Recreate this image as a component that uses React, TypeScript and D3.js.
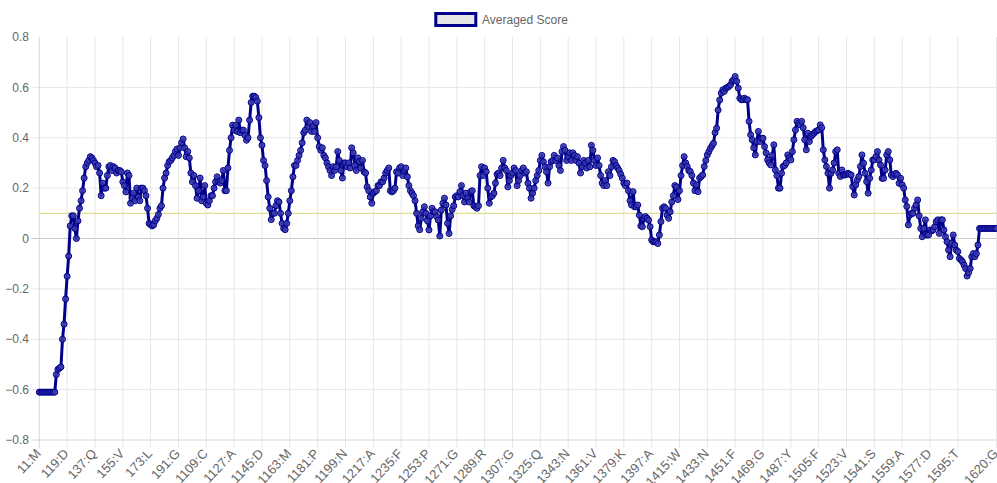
import React from 'react';
import * as d3 from 'd3';

// x tick labels shown on the axis (chain + residue : amino acid)
const tickLabels = [
  '11:M', '119:D', '137:Q', '155:V', '173:L', '191:G', '1109:C', '1127:A', '1145:D',
  '1163:M', '1181:P', '1199:N', '1217:A', '1235:F', '1253:P', '1271:G', '1289:R', '1307:G',
  '1325:Q', '1343:N', '1361:V', '1379:K', '1397:A', '1415:W', '1433:N', '1451:F', '1469:G',
  '1487:Y', '1505:F', '1523:V', '1541:S', '1559:A', '1577:D', '1595:T', '1620:G',
];

// averaged score per residue (1..620), 18 residues per row
const scores = [
  -0.61, -0.61, -0.61, -0.61, -0.61, -0.61, -0.61, -0.61, -0.61, -0.61, -0.61, -0.54, -0.52, -0.515, -0.51, -0.40, -0.34, -0.24,
  -0.15, -0.07, 0.05, 0.09, 0.09, 0.04, 0.0, 0.07, 0.12, 0.15, 0.19, 0.24, 0.285, 0.30, 0.31, 0.325, 0.32, 0.31,
  0.30, 0.285, 0.29, 0.26, 0.17, 0.22, 0.20, 0.20, 0.25, 0.285, 0.29, 0.27, 0.285, 0.28, 0.26, 0.27, 0.27, 0.265,
  0.225, 0.21, 0.185, 0.26, 0.25, 0.14, 0.16, 0.18, 0.15, 0.20, 0.165, 0.15, 0.20, 0.20, 0.19, 0.17, 0.12, 0.06,
  0.055, 0.05, 0.055, 0.07, 0.08, 0.095, 0.12, 0.13, 0.2, 0.24, 0.26, 0.29, 0.305, 0.31, 0.32, 0.33, 0.345, 0.355,
  0.33, 0.36, 0.38, 0.395, 0.36, 0.325, 0.345, 0.32, 0.26, 0.225, 0.25, 0.21, 0.16, 0.19, 0.24, 0.15, 0.165, 0.21,
  0.14, 0.133, 0.15, 0.17, 0.17, 0.20, 0.225, 0.245, 0.225, 0.22, 0.23, 0.27, 0.19, 0.19, 0.28, 0.35, 0.40, 0.45,
  0.43, 0.45, 0.425, 0.47, 0.42, 0.43, 0.43, 0.41, 0.39, 0.40, 0.47, 0.54, 0.565, 0.565, 0.56, 0.545, 0.48, 0.40,
  0.37, 0.31, 0.29, 0.23, 0.165, 0.12, 0.075, 0.10, 0.10, 0.13, 0.15, 0.145, 0.10, 0.06, 0.04, 0.035, 0.06, 0.10,
  0.15, 0.19, 0.245, 0.29, 0.29, 0.31, 0.33, 0.35, 0.38, 0.42, 0.43, 0.47, 0.445, 0.46, 0.425, 0.445, 0.425, 0.46,
  0.40, 0.365, 0.35, 0.36, 0.33, 0.32, 0.30, 0.285, 0.27, 0.25, 0.285, 0.27, 0.285, 0.345, 0.31, 0.27, 0.24, 0.30,
  0.30, 0.285, 0.30, 0.28, 0.36, 0.34, 0.29, 0.27, 0.32, 0.305, 0.28, 0.31, 0.265, 0.26, 0.205, 0.19, 0.165, 0.14,
  0.18, 0.186, 0.19, 0.21, 0.21, 0.225, 0.225, 0.24, 0.26, 0.27, 0.28, 0.19, 0.185, 0.19, 0.20, 0.265, 0.26, 0.28,
  0.285, 0.25, 0.27, 0.28, 0.245, 0.21, 0.19, 0.18, 0.17, 0.15, 0.10, 0.05, 0.035, 0.08, 0.106, 0.126, 0.10, 0.07,
  0.034, 0.09, 0.12, 0.106, 0.106, 0.087, 0.073, 0.01, 0.113, 0.14, 0.16, 0.133, 0.06, 0.02, 0.09, 0.115, 0.13, 0.165,
  0.17, 0.165, 0.186, 0.21, 0.17, 0.145, 0.18, 0.16, 0.145, 0.186, 0.19, 0.13, 0.126, 0.12, 0.13, 0.25, 0.285, 0.25,
  0.28, 0.265, 0.2, 0.14, 0.165, 0.17, 0.18, 0.22, 0.255, 0.26, 0.25, 0.28, 0.31, 0.28, 0.27, 0.205, 0.23, 0.25,
  0.26, 0.28, 0.27, 0.21, 0.23, 0.25, 0.27, 0.28, 0.26, 0.265, 0.22, 0.2, 0.16, 0.18, 0.2, 0.23, 0.25, 0.27,
  0.31, 0.33, 0.305, 0.285, 0.265, 0.22, 0.285, 0.305, 0.31, 0.33, 0.31, 0.32, 0.29, 0.27, 0.345, 0.365, 0.35, 0.31,
  0.325, 0.34, 0.31, 0.34, 0.33, 0.31, 0.325, 0.30, 0.26, 0.285, 0.31, 0.30, 0.28, 0.31, 0.285, 0.37, 0.35, 0.31,
  0.29, 0.32, 0.29, 0.25, 0.22, 0.21, 0.23, 0.21, 0.265, 0.25, 0.285, 0.31, 0.305, 0.29, 0.28, 0.27, 0.255, 0.24,
  0.22, 0.21, 0.22, 0.19, 0.15, 0.133, 0.186, 0.126, 0.126, 0.133, 0.093, 0.05, 0.047, 0.08, 0.087, 0.08, 0.073, 0.047,
  -0.006, -0.013, -0.013, -0.013, -0.02, 0.014, 0.067, 0.12, 0.126, 0.12, 0.093, 0.08, 0.106, 0.145, 0.17, 0.21, 0.205, 0.155,
  0.19, 0.25, 0.29, 0.325, 0.30, 0.286, 0.27, 0.266, 0.25, 0.22, 0.19, 0.213, 0.186, 0.24, 0.246, 0.252, 0.286, 0.31,
  0.332, 0.345, 0.358, 0.368, 0.378, 0.42, 0.438, 0.51, 0.55, 0.577, 0.59, 0.584, 0.597, 0.60, 0.604, 0.61, 0.624, 0.63,
  0.643, 0.624, 0.597, 0.557, 0.551, 0.551, 0.557, 0.551, 0.551, 0.465, 0.412, 0.392, 0.36, 0.332, 0.385, 0.425, 0.385, 0.398,
  0.398, 0.365, 0.34, 0.312, 0.30, 0.292, 0.33, 0.372, 0.272, 0.25, 0.2, 0.2, 0.259, 0.286, 0.29, 0.30, 0.332, 0.32,
  0.312, 0.345, 0.392, 0.431, 0.465, 0.458, 0.451, 0.465, 0.44, 0.392, 0.352, 0.418, 0.385, 0.405, 0.412, 0.418, 0.425, 0.428,
  0.431, 0.451, 0.44, 0.352, 0.312, 0.286, 0.259, 0.2, 0.259, 0.272, 0.30, 0.345, 0.352, 0.259, 0.246, 0.272, 0.252, 0.252,
  0.255, 0.259, 0.255, 0.252, 0.206, 0.173, 0.213, 0.233, 0.246, 0.286, 0.332, 0.299, 0.259, 0.226, 0.18, 0.239, 0.272, 0.312,
  0.312, 0.325, 0.345, 0.312, 0.292, 0.239, 0.239, 0.272, 0.332, 0.345, 0.312, 0.252, 0.246, 0.255, 0.259, 0.252, 0.219, 0.239,
  0.213, 0.2, 0.153, 0.127, 0.054, 0.093, 0.1, 0.1, 0.12, 0.133, 0.153, 0.09, 0.04, 0.007, 0.04, 0.074, 0.014, 0.014,
  0.034, 0.03, 0.034, 0.047, 0.067, 0.074, 0.02, 0.074, 0.074, 0.034, 0.007, -0.013, -0.046, -0.072, -0.019, 0.014, -0.026, -0.046,
  -0.052, -0.079, -0.085, -0.092, -0.105, -0.119, -0.149, -0.135, -0.119, -0.072, -0.06, -0.072, -0.06, -0.026, 0.04, 0.04, 0.04, 0.04,
  0.04, 0.04, 0.04, 0.04, 0.04, 0.04, 0.04, 0.04,
];

const yTicks = [0.8, 0.6, 0.4, 0.2, 0, -0.2, -0.4, -0.6, -0.8];
const threshold = 0.1;
const seriesName = 'Averaged Score';

const FONT = '"Liberation Sans", Arial, Helvetica, sans-serif';

export default function App() {
  const width = 997;
  const height = 483;
  const left = 39.3;
  const right = 996.5;
  const top = 37;
  const bottom = 440;

  const x = d3.scaleLinear().domain([1, scores.length]).range([left, right]);
  const y = d3.scaleLinear().domain([-0.8, 0.8]).range([bottom, top]);

  const line = d3.line<number>()
    .x((d, i) => x(i + 1))
    .y(d => y(d));

  const ticks = tickLabels.map(t => ({ label: t, pos: +t.split(':')[0].slice(1) }));

  return (
    <svg width={width} height={height}
      style={{ position: 'absolute', left: 0, top: 0, background: '#fff' }}
      fontFamily={FONT}>
      {/* horizontal grid */}
      {yTicks.map(v => (
        v === 0.8 ? null :
        <line key={'gy' + v} x1={left - 8} x2={right} y1={y(v)} y2={y(v)}
          stroke={v === 0 ? '#c8c8c8' : v === -0.8 ? '#d6d6d6' : '#e6e6e6'} strokeWidth={1} />
      ))}
      {/* vertical grid */}
      {ticks.map(t => (
        <line key={'gx' + t.label} x1={x(t.pos)} x2={x(t.pos)} y1={top} y2={bottom + 8}
          stroke={t.pos === 1 ? '#d6d6d6' : '#e6e6e6'} strokeWidth={1} />
      ))}
      {/* y labels */}
      {yTicks.map(v => (
        <text key={'ty' + v} x={29} y={y(v)} dy="0.35em" textAnchor="end" fontSize={12} fill="#666">
          {v === 0 ? '0' : d3.format('.1f')(v)}
        </text>
      ))}
      {/* x labels */}
      {ticks.map(t => (
        <text key={'tx' + t.label} fontSize={13} fill="#666" textAnchor="end" dy="0.35em"
          transform={`translate(${x(t.pos) - 1},${bottom + 11}) rotate(-47)`}>
          {t.label}
        </text>
      ))}
      {/* threshold */}
      <line x1={left} x2={right} y1={y(threshold)} y2={y(threshold)} stroke="#d8d872" strokeWidth={1} />
      {/* series */}
      <path d={line(scores) || ''} fill="none" stroke="#00008b" strokeWidth={3} strokeLinejoin="round" />
      {scores.map((d, i) => (
        <circle key={i} cx={x(i + 1)} cy={y(d)} r={3} fill="rgba(60,60,175,0.85)" stroke="#00008b" strokeWidth={1} />
      ))}
      {/* legend */}
      <rect x={435.8} y={13.5} width={40} height={12} fill="#e6e6e6" stroke="#00008b" strokeWidth={3} />
      <text x={482} y={23.5} fontSize={12} fill="#666">{seriesName}</text>
    </svg>
  );
}
